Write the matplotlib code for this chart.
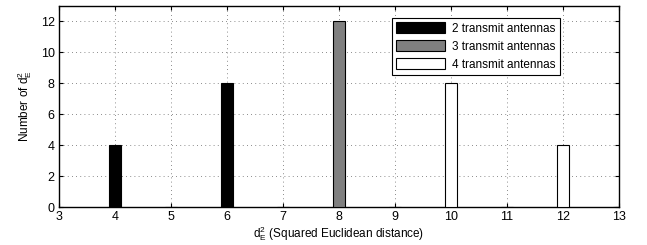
import matplotlib
matplotlib.use("Agg")
import matplotlib.pyplot as plt

plt.rcParams['font.family'] = ['Liberation Sans', 'DejaVu Sans']
plt.rcParams['mathtext.fontset'] = 'custom'
plt.rcParams['mathtext.rm'] = 'Liberation Sans'
plt.rcParams['mathtext.it'] = 'Liberation Sans'

# data
x_2tx = [4, 5, 6, 7]
n_2tx = [4, 0, 8, 0]
x_3tx = [8, 9]
n_3tx = [12, 0]
x_4tx = [10, 11, 12, 13]
n_4tx = [8, 0, 4, 0]
xticks = list(range(3, 14))
yticks = list(range(0, 13, 2))

fig = plt.figure(figsize=(6.47, 2.45), dpi=100)
ax = fig.add_axes([0.091, 0.155, 0.866, 0.821])

w = 0.22
ax.bar(x_2tx, n_2tx, width=w, color='black', edgecolor='black', linewidth=0.8, label='2 transmit antennas', zorder=3)
ax.bar(x_3tx, n_3tx, width=w, color='#808080', edgecolor='black', linewidth=0.8, label='3 transmit antennas', zorder=3)
ax.bar(x_4tx, n_4tx, width=w, color='white', edgecolor='black', linewidth=0.8, label='4 transmit antennas', zorder=3)

ax.set_xlim(3, 13)
ax.set_ylim(0, 13)
ax.set_xticks(xticks)
ax.set_yticks(yticks)
ax.grid(True, linestyle=(0, (1, 4)), color='#666666', linewidth=0.6)
ax.tick_params(direction='in', labelsize=9, top=True, right=True, length=3, pad=3)
for s in ax.spines.values():
    s.set_linewidth(1.0)

ax.set_xlabel(r'$\mathregular{d_E^2}$ (Squared Euclidean distance)', fontsize=8.5, labelpad=1)
ax.set_ylabel(r'Number of $\mathregular{d_E^2}$', fontsize=8.5, labelpad=5)

leg = ax.legend(loc='upper right', bbox_to_anchor=(0.905, 0.97), fontsize=8.5, fancybox=False,
                edgecolor='black', framealpha=1, handlelength=4.2, handleheight=1.1,
                borderpad=0.35, labelspacing=0.45, handletextpad=0.6)
leg.get_frame().set_linewidth(0.8)

fig.savefig('out.png', dpi=100)
